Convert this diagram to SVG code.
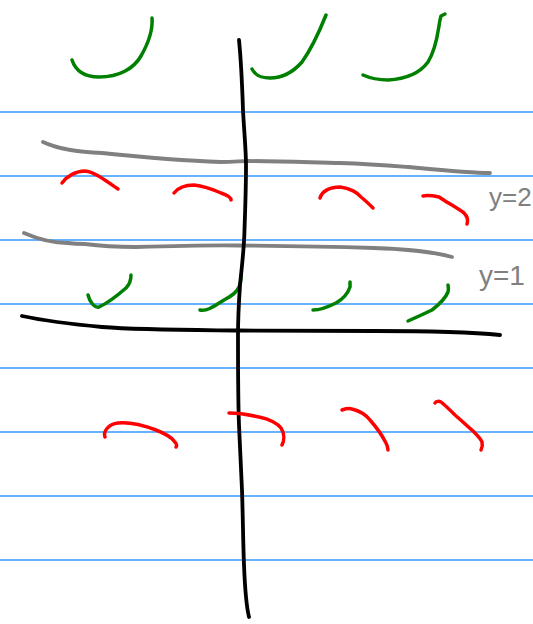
<svg xmlns="http://www.w3.org/2000/svg" width="533" height="624" viewBox="0 0 533 624">
<style>
.rule{stroke:#3399ff;stroke-width:1.3;fill:none}
.s{fill:none;stroke-linecap:round;stroke-linejoin:round}
.g{stroke:#008000;stroke-width:3.5}
.r{stroke:#ff0000;stroke-width:3.5}
.k{stroke:#000;stroke-width:3.8}
.gr{stroke:#808080;stroke-width:3.8}
.lbl{font-family:"Liberation Sans",Arial,sans-serif;fill:#808080;font-size:28px}
</style>
<rect width="533" height="624" fill="#fff"/>
<g id="rules">
<line class="rule" x1="0" y1="112" x2="533" y2="112"/>
<line class="rule" x1="0" y1="176" x2="533" y2="176"/>
<line class="rule" x1="0" y1="240" x2="533" y2="240"/>
<line class="rule" x1="0" y1="304" x2="533" y2="304"/>
<line class="rule" x1="0" y1="368" x2="533" y2="368"/>
<line class="rule" x1="0" y1="432" x2="533" y2="432"/>
<line class="rule" x1="0" y1="496" x2="533" y2="496"/>
<line class="rule" x1="0" y1="560" x2="533" y2="560"/>
</g>
<g id="green-top">
<path class="s g" d="M72,60 C76,72 86,77 99,77 C120,77 134,68 141,56 C149,42 153,30 152,18"/>
<path class="s g" d="M252,69 C256,77 263,78 270,78 C285,78 295,70 302,62 C312,48 320,30 326,15"/>
<path class="s g" d="M363,75 C372,79 380,80 388,80 C405,79 420,73 428,62 C437,48 438,30 440,20 L441,16 L445,14"/>
</g>
<g id="gray-lines">
<path class="s gr" d="M43,142 C60,150 80,152 102,153 C140,157 190,161 221,162 C235,162 240,161 248,161 C290,161 320,163 340,163 C370,164 395,166 408,167 C440,170 470,173 490,173"/>
<path class="s gr" d="M24,233 C40,240 55,243 68,243 C75,244 80,244 85,244 C100,246 120,247 136,247 C170,246 205,245 238,245.5 C290,246 340,247 374,248 C405,249 430,251 452,257"/>
</g>
<g id="red-row1">
<path class="s r" d="M62,183 C67,176 76,171 85,171 C94,172 102,178 118,189"/>
<path class="s r" d="M174,193 C178,188 186,185 194,185 C204,186 212,189 221,193 C230,196 231,198 231,200"/>
<path class="s r" d="M320,198 C322,191 330,187 340,187 C350,188 358,193 361,197 C366,201 370,205 373,208"/>
<path class="s r" d="M423,196 C428,195 434,196 439,197 C446,202 456,207 464,213 C468,217 468,221 467,224"/>
</g>
<g id="green-row2">
<path class="s g" d="M88,295 C90,303 95,308 99,307 C108,303 118,295 126,288 C130,284 131,279 131,275"/>
<path class="s g" d="M200,310 C207,312 216,305 224,300 C232,296 237,292 239,287 C241,283 241,279 241,275"/>
<path class="s g" d="M313,310 C320,310 330,306 336,303 C343,299 348,293 350,287 L350,282"/>
<path class="s g" d="M408,321 C417,317 426,313 432,310 C441,303 446,297 448,292 C449,288 448,286 448,285"/>
</g>
<g id="axes">
<path class="s k" d="M239,40 C241,60 242,80 243,110 C244,130 246,150 246,165 C246,190 245,215 244.5,230 C244,250 242,265 240,285 C239,300 238,315 238,335 C238,370 238,400 239,425 C240,450 241,470 242,490 C243,520 243,540 244,565 C245,590 246,605 249,617"/>
<path class="s k" d="M22,316 C50,322 80,325 102,327 C140,330 190,330 238,330.5 C290,331 340,331 374,331 C420,331 470,332 500,335"/>
</g>
<g id="red-row3">
<path class="s r" d="M105,437 C103,432 108,424 118,423 C128,422 140,424 156,430 C166,434 172,438 174,441 C177,444 177,446 176,447"/>
<path class="s r" d="M229,413 C240,413 250,415 259,417 C270,419 278,424 281,428 C285,434 284,441 282,445"/>
<path class="s r" d="M342,410 C345,409 349,408 352,409 C360,411 366,415 370,420 C377,428 383,437 386,443 C388,447 388,449 388,450"/>
<path class="s r" d="M435,403 C436,401 439,401 441,402 C446,406 450,410 455,415 C461,420 468,427 473,431 C478,436 481,439 482,442 C483,446 482,448 481,450"/>
</g>
<g id="labels">
<text class="lbl" x="489" y="206" style="font-size:26px">y=2</text>
<text class="lbl" x="479" y="285">y=1</text>
</g>
</svg>
